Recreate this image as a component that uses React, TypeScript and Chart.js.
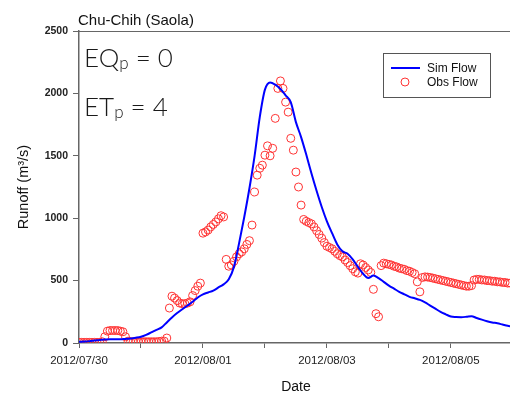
import { useEffect, useRef } from 'react';
import { Chart, registerables } from 'chart.js';

Chart.register(...registerables);

// Date labels for each day starting at 2012/07/30 00:00 (x axis unit: hours)
const dayLabels = ['2012/07/30', '2012/07/31', '2012/08/01', '2012/08/02', '2012/08/03', '2012/08/04', '2012/08/05'];
const yTickValues = [0, 500, 1000, 1500, 2000, 2500];

// Observed flow, hourly from 2012/07/30 00:00
const obsFlow = [
  5, 5, 5, 5, 5, 5, 5, 5, 5, 10,
  50, 95, 100, 100, 100, 100, 95, 90, 50, 15,
  10, 10, 10, 10, 10, 10, 10, 10, 10, 10,
  10, 12, 15, 15, 40, 280, 375, 360, 340, 320,
  315, 315, 320, 330, 380, 420, 455, 480, 880, 890,
  905, 930, 950, 970, 995, 1020, 1010, 670, 615, 625,
  655, 690, 715, 730, 755, 790, 820, 945, 1210, 1345,
  1400, 1425, 1505, 1580, 1500, 1560, 1800, 2040, 2100, 2040,
  1930, 1850, 1640, 1545, 1370, 1250, 1105, 990, 975, 965,
  955, 930, 900, 870, 840, 805, 775, 765, 755, 735,
  715, 700, 690, 665, 645, 620, 595, 570, 560, 635,
  625, 605, 585, 565, 430, 235, 210, 620, 640, 635,
  630, 625, 615, 610, 600, 595, 590, 580, 575, 565,
  555, 490, 410, 525, 530, 528, 525, 520, 515, 510,
  505, 500, 495, 490, 485, 480, 475, 470, 465, 460,
  455, 455, 460, 505, 510, 510, 505, 505, 500, 500,
  495, 495, 490, 490, 485, 485, 480, 480,
];

// Simulated flow, every 2 hours from 2012/07/30 00:00
const simFlow = [
  10, 12, 15, 20, 25, 28, 30, 30, 30, 33,
  36, 42, 50, 65, 85, 105, 125, 165, 205, 240,
  270, 300, 330, 365, 390, 405, 420, 445, 470, 510,
  610, 800, 1010, 1240, 1500, 1810, 2030, 2088, 2070, 2035,
  1985, 1930, 1770, 1650, 1510, 1360, 1220, 1090, 975, 880,
  790, 735, 715, 670, 610, 555, 520, 540, 520, 490,
  460, 435, 410, 390, 370, 358, 345, 325, 300, 275,
  250, 230, 212, 208, 207, 210, 215, 200, 187, 175,
  165, 158, 148, 138, 130,
];

const OBS_STEP_H = 1;
const SIM_STEP_H = 2;
const X_MAX_H = 166.9;

const FONT = '"Liberation Sans", Arial, Helvetica, sans-serif';
const LIGHT_FONT = 'Lato, "Open Sans", "Noto Sans", sans-serif';

function drawSub(ctx: CanvasRenderingContext2D, main: string, sub: string, rest: string, x: number, y: number) {
  ctx.font = `300 26px ${LIGHT_FONT}`;
  ctx.fillText(main, x, y);
  let cx = x + ctx.measureText(main).width;
  ctx.font = `300 17px ${LIGHT_FONT}`;
  ctx.fillText(sub, cx, y + 2);
  cx += ctx.measureText(sub).width;
  ctx.font = `300 26px ${LIGHT_FONT}`;
  ctx.fillText(rest, cx, y);
}

const overlayPlugin = {
  id: 'overlay',
  afterDraw(chart: any) {
    const ctx: CanvasRenderingContext2D = chart.ctx;
    const { left, top, right, bottom } = chart.chartArea;
    ctx.save();
    // top frame line
    ctx.strokeStyle = '#666';
    ctx.lineWidth = 1;
    ctx.beginPath();
    ctx.moveTo(left, top + 0.5);
    ctx.lineTo(right, top + 0.5);
    ctx.stroke();

    ctx.textAlign = 'left';
    ctx.textBaseline = 'alphabetic';
    ctx.fillStyle = '#111';
    ctx.font = `15px ${FONT}`;
    ctx.fillText('Chu-Chih (Saola)', 78, 25);

    ctx.fillStyle = '#1a1a1a';
    drawSub(ctx, 'EQ', 'p', ' = 0', 84, 67);
    drawSub(ctx, 'ET', 'p', ' = 4', 84, 116);

    // legend
    ctx.strokeStyle = '#555';
    ctx.lineWidth = 1;
    ctx.strokeRect(383.5, 53.5, 107, 44);
    ctx.strokeStyle = '#0000ff';
    ctx.lineWidth = 2;
    ctx.beginPath();
    ctx.moveTo(391, 68);
    ctx.lineTo(420, 68);
    ctx.stroke();
    ctx.strokeStyle = '#ff3333';
    ctx.lineWidth = 1;
    ctx.beginPath();
    ctx.arc(405, 82, 4, 0, Math.PI * 2);
    ctx.stroke();
    ctx.fillStyle = '#111';
    ctx.font = `12px ${FONT}`;
    ctx.fillText('Sim Flow', 427, 72);
    ctx.fillText('Obs Flow', 427, 86);

    // axis titles
    ctx.font = `14px ${FONT}`;
    ctx.textAlign = 'center';
    ctx.fillText('Date', 296, 391);
    ctx.save();
    ctx.translate(28, 187);
    ctx.rotate(-Math.PI / 2);
    ctx.font = `14.5px ${FONT}`;
    ctx.fillText('Runoff (m\u00B3/s)', 0, 0);
    ctx.restore();
    ctx.restore();
  },
};

export default function App() {
  const canvasRef = useRef<HTMLCanvasElement | null>(null);

  useEffect(() => {
    const canvas = canvasRef.current;
    if (!canvas) return;
    const obsPoints = obsFlow.map((v, i) => ({ x: i * OBS_STEP_H, y: v }));
    const simPoints = simFlow.map((v, i) => ({ x: i * SIM_STEP_H, y: v }));
    const chart = new Chart(canvas, {
      type: 'scatter',
      data: {
        datasets: [
          {
            label: 'Sim Flow',
            type: 'line',
            data: simPoints,
            borderColor: '#0000ff',
            borderWidth: 2,
            pointRadius: 0,
            fill: false,
            cubicInterpolationMode: 'monotone',
            order: 0,
          } as any,
          {
            label: 'Obs Flow',
            data: obsPoints,
            borderColor: '#ff3333',
            backgroundColor: 'rgba(0,0,0,0)',
            borderWidth: 1,
            pointRadius: 4,
            pointHoverRadius: 4,
            order: 1,
          },
        ],
      },
      options: {
        responsive: false,
        animation: false,
        events: [],
        layout: { autoPadding: false, padding: { top: 31, left: 0, right: 0, bottom: 0 } },
        plugins: {
          legend: { display: false },
          title: { display: false },
          tooltip: { enabled: false },
        },
        scales: {
          x: {
            type: 'linear',
            min: 0,
            max: X_MAX_H,
            ticks: {
              stepSize: 24,
              autoSkip: false,
              includeBounds: false,
              maxRotation: 0,
              padding: 6,
              color: '#222',
              font: { family: FONT, size: 11.5 },
              callback: (v: any) => {
                const d = Math.round(Number(v) / 24);
                if (Number(v) % 24 !== 0) return '';
                return d % 2 === 0 ? dayLabels[d] ?? '' : '';
              },
            },
            grid: { drawOnChartArea: false, drawTicks: true, tickLength: 5, color: '#666' },
            border: { color: '#666', width: 1.5 },
            afterFit: (s: any) => { s.height = 53; },
          },
          y: {
            min: 0,
            max: 2500,
            afterBuildTicks: (s: any) => { s.ticks = yTickValues.map((v) => ({ value: v })); },
            ticks: {
              padding: 5,
              color: '#222',
              font: { family: FONT, size: 10.5, weight: 'bold' },
              callback: (v: any) => String(v),
            },
            grid: { drawOnChartArea: false, drawTicks: true, tickLength: 6, color: '#666' },
            border: { color: '#666', width: 1.5 },
            afterFit: (s: any) => { s.width = 79; },
          },
        },
      },
      plugins: [overlayPlugin],
    });
    return () => chart.destroy();
  }, []);

  return (
    <div style={{ position: 'absolute', left: 0, top: 0, width: 510, height: 396, background: '#fff' }}>
      <canvas ref={canvasRef} width={510} height={396} />
    </div>
  );
}
